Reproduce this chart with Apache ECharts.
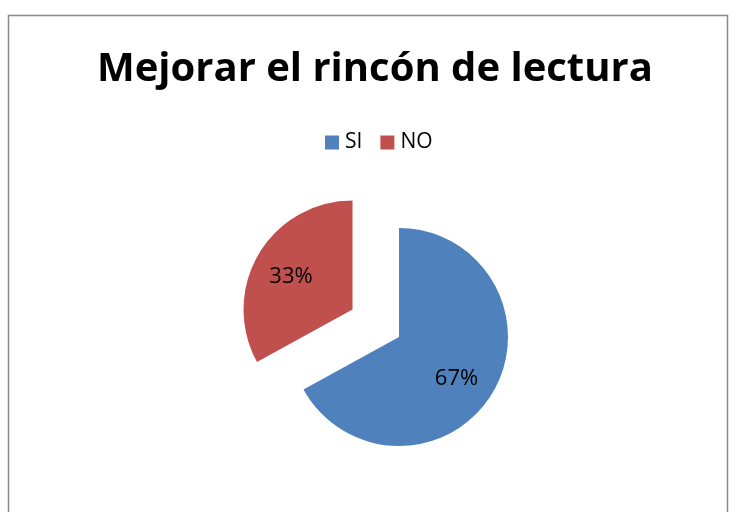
<!DOCTYPE html>
<html>
  <head>
    <meta http-equiv="Content-Type" content="text/html; charset=utf-8">
    <title>Mejorar el rincón de lectura</title>
    <style>
      html, body { margin: 0; padding: 0; background: #fff; }
      #chart { width: 732px; height: 512px; }
    </style>
    <script src="https://cdn.jsdelivr.net/npm/echarts@6/dist/echarts.min.js"></script>
  </head>
  <body>
    <div id="chart"></div>
    <script type="text/javascript">
      var titulo = 'Mejorar el rincón de lectura';
      var categorias = ['SI', 'NO'];
      var valores = [67, 33];
      var colores = ['#4F81BD', '#C0504D'];

      var myChart = echarts.init(document.getElementById('chart'));

      // label nudges so the percentages sit where the original puts them
      var desplaz = { SI: [8, 12], NO: [-12, -4] };

      var datos = categorias.map(function (c, i) {
        return {
          name: c,
          value: valores[i],
          selected: c === 'NO',
          label: { offset: desplaz[c] },
          select: { label: { offset: desplaz[c] } }
        };
      });

      myChart.setOption({
        animation: false,
        color: colores,
        title: {
          text: titulo,
          left: 92,
          top: 45,
          textStyle: {
            fontFamily: 'Open Sans',
            fontWeight: 'bold',
            fontSize: 40,
            color: '#000'
          }
        },
        legend: {
          data: categorias,
          top: 127,
          left: 320,
          icon: 'rect',
          itemWidth: 14,
          itemHeight: 14,
          itemGap: 18,
          selectedMode: false,
          textStyle: { fontFamily: 'Open Sans', fontSize: 21, color: '#000', padding: [0, 0, 0, 1] }
        },
        graphic: [{
          type: 'rect',
          shape: { x: 8.5, y: 15.5, width: 719, height: 520 },
          style: { fill: 'none', stroke: '#898989', lineWidth: 1.5 },
          silent: true
        }],
        series: [{
          type: 'pie',
          center: [399, 337],
          radius: 109,
          startAngle: 90,
          clockwise: true,
          selectedMode: 'single',
          selectedOffset: 54,
          label: {
            position: 'inside',
            formatter: '{d}%',
            fontFamily: 'Open Sans',
            fontSize: 22,
            color: '#000'
          },
          labelLine: { show: false },
          emphasis: { disabled: true },
          data: datos
        }]
      });
    </script>
  </body>
</html>
